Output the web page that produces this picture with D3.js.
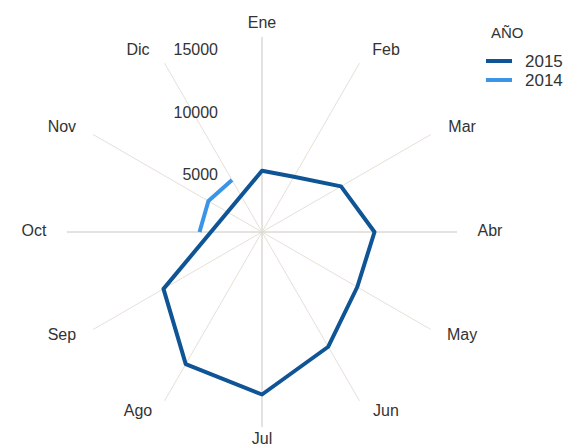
<!DOCTYPE html>
<html>
<head>
<meta charset="utf-8">
<script src="https://cdnjs.cloudflare.com/ajax/libs/d3/7.8.5/d3.min.js"></script>
<style>
  body { margin: 0; background: #fff; }
  text { font-family: "Liberation Sans", Arial, sans-serif; fill: #333; }
</style>
</head>
<body>
<div id="chart"></div>
<script>
// months (clockwise from top)
var months = ["Ene", "Feb", "Mar", "Abr", "May", "Jun", "Jul", "Ago", "Sep", "Oct", "Nov", "Dic"];
// series values, null = no data
var years = ["2015", "2014"];
var values2015 = [4900, 5100, 7300, 9000, 8800, 10600, 13000, 12200, 9100, null, null, null];
var values2014 = [null, null, null, null, null, null, null, null, null, 5000, 4950, 4800];
var tickValues = [5000, 10000, 15000];
var colors = ["#0f5596", "#3a95e6"];

var width = 565, height = 448;
var cx = 262, cy = 232;
var radius = 195;

var svg = d3.select("#chart")
  .append("svg")
    .attr("width", width)
    .attr("height", height);

var r = d3.scaleLinear()
  .domain([0, 15600])
  .range([0, radius]);

var angle = d3.scalePoint()
  .domain(months)
  .range([0, 2 * Math.PI * 11 / 12]);

var g = svg.append("g")
  .attr("transform", "translate(" + cx + "," + cy + ")");

////////////////////// spokes //////////////////////
g.selectAll(".spoke")
  .data(months)
  .enter()
  .append("line")
  .attr("class", "spoke")
  .attr("x1", 0)
  .attr("y1", 0)
  .attr("x2", function(d) { return radius * Math.sin(angle(d)); })
  .attr("y2", function(d) { return -radius * Math.cos(angle(d)); })
  .attr("stroke", function(d, i) { return i % 3 == 0 ? "#c9c6c0" : "#e6e0d6"; })
  .attr("stroke-width", 1);

////////////////////// month labels //////////////////////
g.selectAll(".mlabel")
  .data(months)
  .enter()
  .append("text")
  .attr("class", "mlabel")
  .attr("x", function(d) {
    var s = Math.sin(angle(d));
    var side = Math.abs(s) < 0.01 ? 0 : (s > 0 ? 1 : -1);
    return 208 * s + 20 * side;
  })
  .attr("y", function(d) { return -208 * Math.cos(angle(d)) - 2; })
  .attr("dy", "0.35em")
  .attr("text-anchor", "middle")
  .attr("font-size", 16)
  .text(function(d) { return d; });

////////////////////// value labels //////////////////////
g.selectAll(".vlabel")
  .data(tickValues)
  .enter()
  .append("text")
  .attr("class", "vlabel")
  .attr("x", -44)
  .attr("y", function(d) { return -r(d) + 5; })
  .attr("dy", "0.35em")
  .attr("text-anchor", "end")
  .attr("font-size", 16)
  .text(function(d) { return d; });

////////////////////// series //////////////////////
var line = d3.lineRadial()
  .angle(function(d) { return angle(d.m); })
  .radius(function(d) { return r(d.v); });

function toPoints(vals) {
  return months.map(function(m, i) { return {m: m, v: vals[i]}; })
    .filter(function(d) { return d.v != null; });
}

// 2014 first so 2015 sits on top
g.append("path")
  .datum(toPoints(values2014))
  .attr("d", line.curve(d3.curveLinear))
  .attr("fill", "none")
  .attr("stroke", colors[1])
  .attr("stroke-width", 4)
  .attr("stroke-linejoin", "round");

g.append("path")
  .datum(toPoints(values2015))
  .attr("d", line.curve(d3.curveLinearClosed))
  .attr("fill", "none")
  .attr("stroke", colors[0])
  .attr("stroke-width", 4)
  .attr("stroke-linejoin", "round");

////////////////////// legend //////////////////////
var legend = svg.append("g")
  .attr("transform", "translate(486,33)");

legend.append("text")
  .attr("x", 5)
  .attr("y", 0)
  .attr("dy", "0.35em")
  .attr("font-size", 15)
  .text("AÑO");

var items = legend.selectAll(".item")
  .data(years)
  .enter()
  .append("g")
  .attr("class", "item")
  .attr("transform", function(d, i) { return "translate(0," + (28 + i * 19) + ")"; });

items.append("line")
  .attr("x1", 0)
  .attr("x2", 26)
  .attr("stroke", function(d, i) { return colors[i]; })
  .attr("stroke-width", 4);

items.append("text")
  .attr("x", 39)
  .attr("dy", "0.35em")
  .attr("font-size", 17)
  .text(function(d) { return d; });
</script>
</body>
</html>
